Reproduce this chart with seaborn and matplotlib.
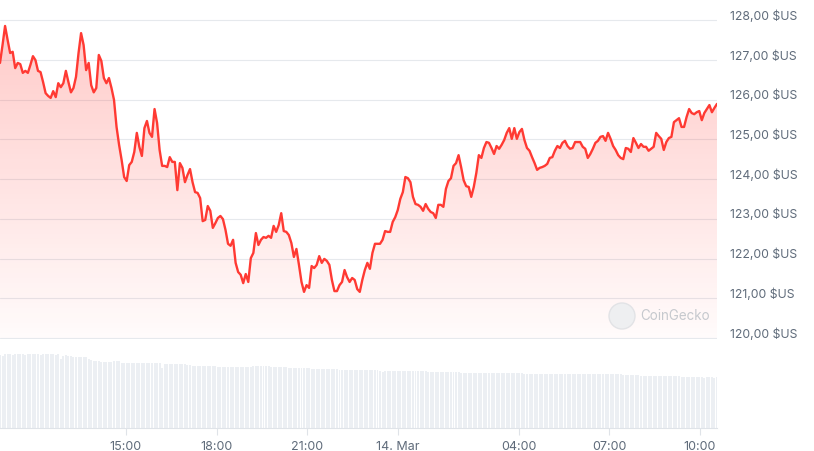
import numpy as np
import pandas as pd
import matplotlib
matplotlib.use("Agg")
import matplotlib.pyplot as plt
import matplotlib.dates as mdates
import matplotlib.transforms as mtransforms
from matplotlib.patches import Circle
import seaborn as sns

# price (USD), 5-min steps
price = [
    126.92, 127.37, 127.85, 127.50, 127.17, 127.20, 126.79, 126.92, 126.89, 126.67,
    126.72, 126.67, 126.87, 127.09, 126.99, 126.72, 126.69, 126.44, 126.16, 126.09,
    126.04, 126.21, 126.06, 126.41, 126.31, 126.41, 126.72, 126.44, 126.18, 126.29,
    126.57, 127.17, 127.67, 127.37, 126.74, 126.92, 126.36, 126.18, 126.29, 127.12,
    126.97, 126.54, 126.41, 126.54, 126.29, 125.99, 125.31,
    124.86, 124.48, 124.05, 123.95, 124.35, 124.43, 124.68, 125.16, 124.81, 124.58,
    125.28, 125.46, 125.16, 125.06, 125.76, 125.41, 124.73, 124.33, 124.33, 124.30,
    124.55, 124.43, 124.43, 123.72, 124.40, 124.28, 123.92, 124.10, 124.25, 123.92,
    123.67, 123.65, 123.52, 122.94, 122.97, 123.32, 123.20, 122.77, 122.89, 123.02,
    123.07, 122.99, 122.72, 122.37, 122.32, 122.47, 121.89, 121.66,
    121.59, 121.38, 121.61, 121.41, 122.01, 122.14, 122.64, 122.34, 122.47, 122.54,
    122.52, 122.57, 122.52, 122.82, 122.67, 122.84, 123.14, 122.69, 122.67, 122.59,
    122.39, 122.04, 122.24, 121.84, 121.41, 121.16, 121.33, 121.26, 121.81, 121.76,
    121.84, 122.06, 121.89, 121.99, 121.94, 121.84, 121.46, 121.18, 121.18, 121.33,
    121.41, 121.71, 121.53, 121.41, 121.51, 121.46, 121.23,
    121.16, 121.46, 121.71, 121.89, 121.74, 122.14, 122.37, 122.37, 122.37, 122.47,
    122.69, 122.67, 122.67, 122.92, 123.04, 123.22, 123.50, 123.67, 124.05, 124.02,
    123.92, 123.55, 123.37, 123.35, 123.30, 123.20, 123.37, 123.25, 123.17, 123.14,
    123.02, 123.35, 123.35, 123.30, 123.75, 123.95, 124.02, 124.33, 124.40, 124.60,
    124.30, 123.97, 123.82, 123.80, 123.55, 123.80, 124.15, 124.60,
    124.53, 124.78, 124.93, 124.91, 124.78, 124.63, 124.83, 124.76, 124.86, 124.98,
    125.16, 125.28, 125.01, 125.28, 125.01, 125.18, 125.26, 124.98, 124.78, 124.71,
    124.55, 124.40, 124.23, 124.28, 124.30, 124.33, 124.38, 124.53, 124.55, 124.71,
    124.83, 124.78, 124.91, 124.96, 124.83, 124.76, 124.78, 124.93, 124.93, 124.93,
    124.81, 124.76, 124.53, 124.63, 124.76, 124.91, 124.96,
    125.06, 125.08, 124.96, 125.16, 125.01, 124.83, 124.73, 124.60, 124.53, 124.50,
    124.78, 124.76, 124.68, 125.03, 124.91, 124.78, 124.88, 124.81, 124.81, 124.71,
    124.76, 124.81, 125.16, 125.08, 125.01, 124.73, 124.93, 125.03, 125.06, 125.43,
    125.48, 125.53, 125.31, 125.31, 125.56, 125.76, 125.66, 125.63, 125.68, 125.71,
    125.48, 125.66, 125.76, 125.86, 125.68, 125.79, 125.89,
]

# 24h volume bars (relative units)
volume = [
    730, 725,
    737, 737, 737, 735, 737, 737, 737, 737, 735, 737, 737, 737, 737, 737, 735, 737,
    737, 737, 737, 737, 735, 737,
    690,
    725, 727, 725, 722,
    713, 712, 712, 710, 712, 712,
    690,
    677, 675, 675, 674,
    663, 663, 662, 663, 663,
    670, 670, 668,
    653, 652, 652, 653, 652, 650, 652, 652, 653, 652, 652, 650, 652, 652, 652, 650,
    603,
    640, 640, 641, 640, 640, 640, 638, 640, 640,
    630, 630,
    623, 623, 622, 623, 623, 623, 622, 623, 623, 622,
    613, 613, 613, 612, 613, 613,
    610, 610, 610, 610, 608, 610, 610, 610,
    622, 622, 620, 622, 622, 620, 618,
    612, 612, 610, 610, 608, 606, 606, 605, 604, 603, 602, 600, 600, 598, 598, 596, 595,
    592, 592, 590, 590, 590, 588, 588, 588, 587, 586, 585, 585, 584, 584, 583, 582,
    582, 581, 580, 580, 579, 579, 578, 577, 577, 576, 575, 560,
    572, 572, 571, 571, 570, 570, 570, 569, 569, 568, 568, 568, 567, 567, 566, 566,
    566, 565, 565, 565, 564, 564, 563, 563, 563, 562, 562, 562, 561, 561,
    555, 555, 554, 554, 554, 553, 553, 553, 552, 552, 552, 551, 551, 551, 550, 550,
    550, 549, 549, 549, 548, 548, 548, 547, 547,
    545, 544, 544, 544, 545, 544, 544, 543, 544, 544, 544, 545, 544, 544, 543, 544,
    544, 544, 543, 544, 544,
    537, 537, 538, 537, 537, 536, 537, 537, 537, 538, 537, 537, 536, 537, 537, 537, 536, 537,
    527, 527, 528, 527, 527, 526, 527,
    520, 520, 521, 520, 520, 520, 519, 520, 520, 521, 520, 520, 519, 520, 520, 520,
    513, 513, 512, 513,
    506, 506, 507, 506, 506, 505, 506, 506, 506, 505, 506,
]

start = pd.Timestamp("2025-03-13 10:50")
end = pd.Timestamp("2025-03-14 10:34")
tick_times = ["2025-03-13 15:00", "2025-03-13 18:00", "2025-03-13 21:00",
              "2025-03-14 00:00", "2025-03-14 04:00", "2025-03-14 07:00",
              "2025-03-14 10:00"]
tick_labels = ["15:00", "18:00", "21:00", "14. Mar", "04:00", "07:00", "10:00"]
price_ticks = [120, 121, 122, 123, 124, 125, 126, 127, 128]
price_labels = [f"{v},00 $US" for v in price_ticks]

sns.set_theme(style="white")
plt.rcParams["font.family"] = ["Inter", "DejaVu Sans"]

W, H = 814, 451
fig = plt.figure(figsize=(W / 100, H / 100), dpi=100)


def box(x0, y0, x1, y1):
    return [x0 / W, 1 - y1 / H, (x1 - x0) / W, (y1 - y0) / H]


pad = 0.03
ppu = 39.75
ax = fig.add_axes(box(0, 20 - pad * ppu, 717, 338 + pad * ppu))
axv = fig.add_axes(box(0, 340, 717, 428))

df = pd.DataFrame({"t": mdates.date2num(pd.date_range(start, end, periods=len(price))),
                   "price": price})
dv = pd.DataFrame({"t": mdates.date2num(pd.date_range(start, end, periods=len(volume))),
                   "volume": volume})
x0, x1 = df.t.iloc[0], df.t.iloc[-1]

# gradient area under the line
fill = ax.fill_between(df.t, df.price, 120, color="none", lw=0)
grad = np.zeros((256, 1, 4))
grad[..., 0] = 1.0
grad[..., 1] = 0.23
grad[..., 2] = 0.2
grad[..., 3] = np.linspace(0.27, 0.02, 256)[:, None]
im = ax.imshow(grad, extent=[x0, x1, 120, 128], aspect="auto", origin="upper", zorder=1)
im.set_clip_path(fill.get_paths()[0], transform=ax.transData)

sns.lineplot(data=df, x="t", y="price", ax=ax, color="#ff3a33", lw=1.7, zorder=3)

ax.set_xlim(x0, x1)
ax.set_ylim(120 - pad, 128 + pad)
ax.set_xticks([])
ax.set_xlabel("")
ax.set_ylabel("")
ax.yaxis.tick_right()
ax.set_yticks(price_ticks, price_labels)
ax.tick_params(axis="y", length=0, pad=9.5, labelsize=8.8, labelcolor="#5f6b7a")
ax.grid(axis="y", color="#e6e9ed", lw=0.8)
ax.set_axisbelow(True)
for s in ax.spines.values():
    s.set_visible(False)
shift = mtransforms.ScaledTranslation(0, 5 / 100, fig.dpi_scale_trans)
for lbl in ax.get_yticklabels():
    lbl.set_transform(lbl.get_transform() + shift)

# volume bars
sns.barplot(data=dv, x="t", y="volume", native_scale=True, color="#eceff3",
            saturation=1, width=0.78, errorbar=None, linewidth=0, ax=axv)
axv.set_xlim(x0, x1)
axv.set_ylim(0, 880)
axv.set_yticks([])
axv.set_xlabel("")
axv.set_ylabel("")
axv.set_xticks(mdates.date2num(pd.to_datetime(tick_times)), tick_labels)
axv.tick_params(axis="x", length=5, width=0.8, color="#dfe3e8", pad=4,
                labelsize=9, labelcolor="#5f6b7a", bottom=True)
for k, s in axv.spines.items():
    s.set_visible(k == "bottom")
axv.spines["bottom"].set_color("#dfe3e8")
axv.spines["bottom"].set_linewidth(0.8)

# watermark
fig.add_artist(Circle((622 / 100, (H - 316) / 100), 0.13, transform=fig.dpi_scale_trans,
                      facecolor="#eeeff1", edgecolor="#e2e3e6", lw=1))
fig.text(640 / W, 1 - 316 / H, "CoinGecko", color="#c6c9ce", fontsize=9.7, va="center")

fig.savefig("out.png", dpi=100)
